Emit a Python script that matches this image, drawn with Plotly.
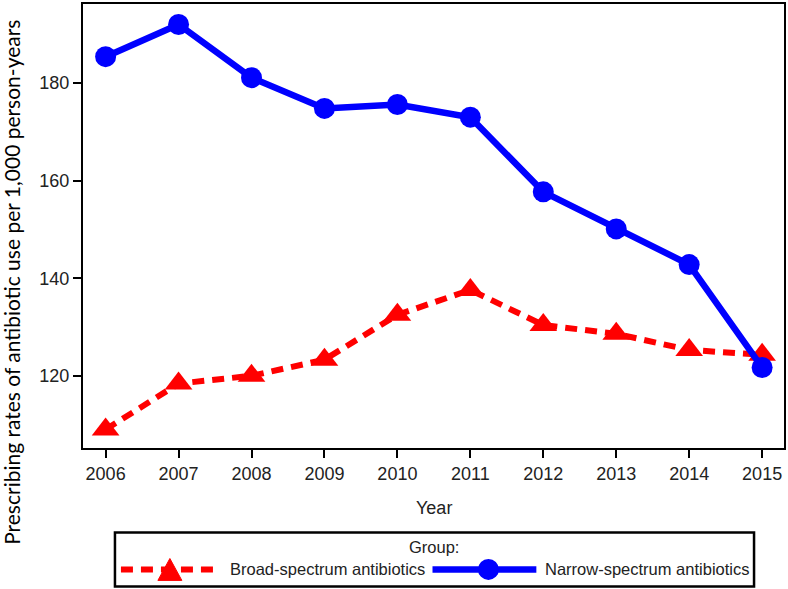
import plotly.graph_objects as go

years = [2006, 2007, 2008, 2009, 2010, 2011, 2012, 2013, 2014, 2015]
broad = [109.0, 118.4, 120.0, 123.3, 132.5, 137.6, 130.4, 128.6, 125.3, 124.3]
narrow = [185.4, 192.0, 181.1, 174.8, 175.6, 173.0, 157.7, 150.1, 142.8, 121.7]
y_ticks = [120, 140, 160, 180]
broad_name = "Broad-spectrum antibiotics"
narrow_name = "Narrow-spectrum antibiotics"

W, H = 788, 589
L, R, T, B = 83, 785, 2, 448
PW, PH = R - L, B - T

def px(x):
    return (x - L) / PW

def py(y):
    return (B - y) / PH

FONT = "Liberation Sans, Arial, sans-serif"
RED = "#FF0000"
BLUE = "#0000FF"
DASH = "12px,8px"

fig = go.Figure()
fig.add_trace(go.Scatter(
    x=years, y=broad, mode="lines+markers", name=broad_name,
    line=dict(color=RED, width=6, dash=DASH),
    marker=dict(symbol="triangle-up", size=24, color=RED),
    showlegend=False))
fig.add_trace(go.Scatter(
    x=years, y=narrow, mode="lines+markers", name=narrow_name,
    line=dict(color=BLUE, width=6.5),
    marker=dict(symbol="circle", size=21, color=BLUE),
    showlegend=False))

axis_common = dict(showline=True, linecolor="black", linewidth=2, mirror=True,
                   ticks="outside", ticklen=8, tickwidth=2, tickcolor="black",
                   showgrid=False, zeroline=False,
                   tickfont=dict(family=FONT, size=18, color="#222222"))
fig.update_xaxes(range=[2005.69, 2015.30], tickmode="array", tickvals=years,
                 ticktext=[str(y) for y in years], **axis_common)
fig.update_yaxes(range=[105.2, 196.2], tickmode="array", tickvals=y_ticks,
                 ticktext=[str(v) for v in y_ticks], **axis_common)

annotations = [
    dict(text="Prescribing rates of antibiotic use per 1,000 person-years",
         xref="paper", yref="paper", x=px(12), y=py(282), textangle=-90,
         showarrow=False, xanchor="center", yanchor="middle",
         font=dict(family="Lato, Carlito, sans-serif", size=21, color="black")),
    dict(text="Year", xref="paper", yref="paper", x=px(435), y=py(508),
         showarrow=False, xanchor="center", yanchor="middle",
         font=dict(family=FONT, size=18, color="#222222")),
    dict(text="Group:", xref="paper", yref="paper", x=px(435), y=py(547),
         showarrow=False, xanchor="center", yanchor="middle",
         font=dict(family=FONT, size=16.5, color="#222222")),
    dict(text=broad_name, xref="paper", yref="paper", x=px(228), y=py(570),
         showarrow=False, xanchor="left", yanchor="middle",
         font=dict(family=FONT, size=16.5, color="#222222")),
    dict(text=narrow_name, xref="paper", yref="paper", x=px(544), y=py(570),
         showarrow=False, xanchor="left", yanchor="middle",
         font=dict(family=FONT, size=16.5, color="#222222")),
]

shapes = [
    dict(type="rect", xref="paper", yref="paper", x0=px(115), x1=px(755),
         y0=py(533), y1=py(587), line=dict(color="black", width=2.5)),
    dict(type="line", xref="paper", yref="paper", x0=px(121), x1=px(219),
         y0=py(570), y1=py(570), line=dict(color=RED, width=6, dash=DASH)),
    dict(type="path", xref="paper", yref="paper",
         path="M {} {} L {} {} L {} {} Z".format(px(158), py(581), px(182), py(581), px(170), py(559)),
         fillcolor=RED, line=dict(color=RED, width=1)),
    dict(type="line", xref="paper", yref="paper", x0=px(433), x1=px(537),
         y0=py(570), y1=py(570), line=dict(color=BLUE, width=6.5)),
    dict(type="circle", xref="paper", yref="paper", x0=px(478.5), x1=px(499.5),
         y0=py(559.5), y1=py(580.5), fillcolor=BLUE, line=dict(color=BLUE, width=0)),
]

fig.update_layout(width=W, height=H, margin=dict(l=L, r=W - R, t=T, b=H - B),
                  plot_bgcolor="white", paper_bgcolor="white",
                  annotations=annotations, shapes=shapes)

fig.write_html("out.html", config={"displayModeBar": False},
               post_script="document.body.style.margin='0';document.body.style.overflow='hidden';")
